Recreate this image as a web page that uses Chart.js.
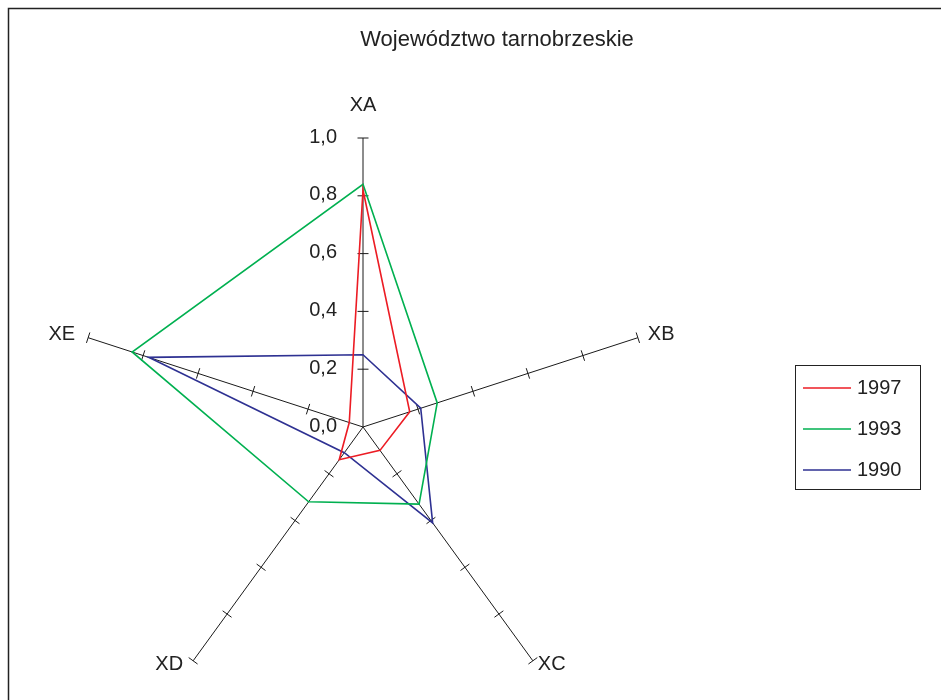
<!DOCTYPE html>
<html><head><meta charset="utf-8">
<script src="https://cdn.jsdelivr.net/npm/chart.js@4.4.1/dist/chart.umd.min.js"></script>
<style>html,body{margin:0;padding:0;background:#fff;overflow:hidden}#wrap{width:941px;height:700px;position:relative}</style>
</head><body><div id="wrap"><canvas id="c" width="941" height="700"></canvas></div>
<script>
const titleText = 'Województwo tarnobrzeskie';
const categories = ['XA', 'XB', 'XC', 'XD', 'XE'];
const series1997 = [0.82, 0.17, 0.10, 0.14, 0.05];
const series1993 = [0.84, 0.27, 0.33, 0.32, 0.84];
const series1990 = [0.25, 0.21, 0.41, 0.11, 0.78];
const seriesNames = ['1997', '1993', '1990'];
const seriesColors = ['#ec1c24', '#00b050', '#2e3192'];
const tickValues = [0, 0.2, 0.4, 0.6, 0.8, 1.0];
const tickLabels = ['0,0', '0,2', '0,4', '0,6', '0,8', '1,0'];

const FONT = "'Liberation Sans', Arial, Helvetica, sans-serif";

const decor = {
  id: 'decor',
  beforeDatasetsDraw(chart) {
    const ctx = chart.ctx;
    const s = chart.scales.r;
    ctx.save();
    // frame
    ctx.strokeStyle = '#222';
    ctx.lineWidth = 1.5;
    ctx.beginPath();
    ctx.moveTo(8.5, 702); ctx.lineTo(8.5, 8.5); ctx.lineTo(945, 8.5);
    ctx.stroke();
    // tick marks on every axis
    ctx.strokeStyle = '#1a1a1a';
    ctx.lineWidth = 1;
    const n = categories.length;
    for (let i = 0; i < n; i++) {
      const a = s.getIndexAngle(i) - Math.PI / 2;
      const px = -Math.sin(a), py = Math.cos(a);
      tickValues.forEach(v => {
        if (v <= 0) return;
        const p = s.getPointPositionForValue(i, v);
        ctx.beginPath();
        ctx.moveTo(p.x - px * 5.5, p.y - py * 5.5);
        ctx.lineTo(p.x + px * 5.5, p.y + py * 5.5);
        ctx.stroke();
      });
    }
    // tick labels along first axis
    ctx.fillStyle = '#222';
    ctx.font = '20px ' + FONT;
    ctx.textAlign = 'right';
    ctx.textBaseline = 'middle';
    tickValues.forEach((v, k) => {
      const p = s.getPointPositionForValue(0, v);
      ctx.fillText(tickLabels[k], p.x - 26, p.y - 1);
    });
    // axis (point) labels
    for (let i = 0; i < n; i++) {
      const a = s.getIndexAngle(i) - Math.PI / 2;
      const c = Math.cos(a), sn = Math.sin(a);
      const e = s.getPointPositionForValue(i, 1.0);
      if (Math.abs(c) < 0.01) {
        ctx.textAlign = 'center';
        ctx.fillText(categories[i], e.x, e.y - 33);
      } else {
        ctx.textAlign = c > 0 ? 'left' : 'right';
        const wide = Math.abs(c) > 0.8;
        const off = c > 0 ? (wide ? 10 : 5) : (wide ? 13 : 10);
        ctx.fillText(categories[i], e.x + Math.sign(c) * off, e.y + (sn > 0 ? 4 : -3));
      }
    }
    // title
    ctx.textAlign = 'center';
    ctx.font = '22px ' + FONT;
    ctx.fillText(titleText, 497, 40);
    ctx.restore();
  },
  afterDraw(chart) {
    const ctx = chart.ctx;
    ctx.save();
    ctx.strokeStyle = '#222';
    ctx.lineWidth = 1;
    ctx.strokeRect(795.5, 365.5, 125, 124);
    ctx.font = '20px ' + FONT;
    ctx.textAlign = 'left';
    ctx.textBaseline = 'middle';
    chart.data.datasets.forEach((ds, k) => {
      const y = 388 + k * 41;
      ctx.strokeStyle = ds.borderColor;
      ctx.lineWidth = 1.5;
      ctx.beginPath();
      ctx.moveTo(803, y); ctx.lineTo(851, y);
      ctx.stroke();
      ctx.fillStyle = '#222';
      ctx.fillText(ds.label, 857, y);
    });
    ctx.restore();
  }
};

new Chart(document.getElementById('c'), {
  type: 'radar',
  data: {
    labels: categories,
    datasets: [
      { label: seriesNames[0], data: series1997, borderColor: seriesColors[0] },
      { label: seriesNames[1], data: series1993, borderColor: seriesColors[1] },
      { label: seriesNames[2], data: series1990, borderColor: seriesColors[2] }
    ].map(d => Object.assign(d, { fill: false, borderWidth: 1.6, pointRadius: 0, clip: false, tension: 0 }))
  },
  options: {
    responsive: false,
    animation: false,
    layout: { padding: 0 },
    plugins: { legend: { display: false }, title: { display: false }, tooltip: { enabled: false } },
    scales: {
      r: {
        min: 0, max: 1,
        ticks: { display: false, stepSize: 0.2 },
        grid: { display: false },
        angleLines: { display: true, color: '#1a1a1a', lineWidth: 1 },
        pointLabels: { display: false },
        afterFit: s => { s.xCenter = 363; s.yCenter = 427; s.drawingArea = 289; }
      }
    }
  },
  plugins: [decor]
});
</script>
</body></html>
